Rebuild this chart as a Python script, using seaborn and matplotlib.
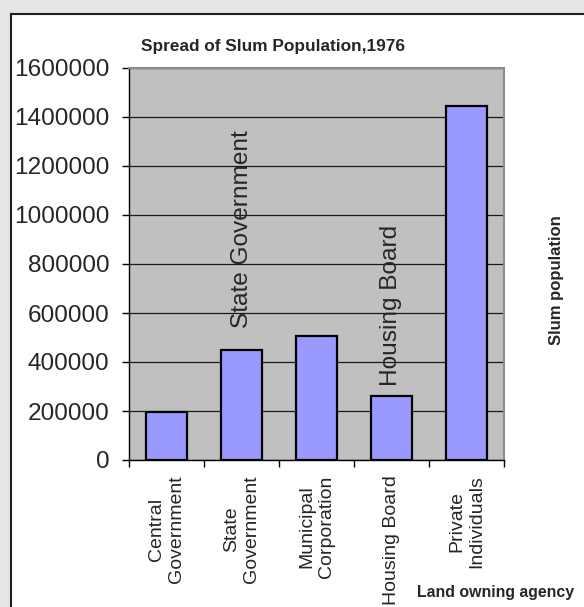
import matplotlib
matplotlib.use("Agg")
import matplotlib.pyplot as plt
import matplotlib.patches as mpatches
from matplotlib.ticker import FixedLocator
import seaborn as sns
import pandas as pd

agencies = ["Central\nGovernment", "State\nGovernment", "Municipal\nCorporation",
            "Housing Board", "Private\nIndividuals"]
slum_population = [197000, 450000, 506000, 262000, 1446000]
y_ticks = [0, 200000, 400000, 600000, 800000, 1000000, 1200000, 1400000, 1600000]

df = pd.DataFrame({"agency": agencies, "population": slum_population})

sns.set_style("white")
plt.rcParams['font.family'] = ['Liberation Sans', 'DejaVu Sans']

W, H = 584, 607
fig = plt.figure(figsize=(W / 100, H / 100), dpi=100, facecolor="#e6e6e6")

# white chart area with dark border
chart_bg = mpatches.Rectangle((11 / W, -0.01), 1.0, 1 - 14 / H + 0.01,
                              transform=fig.transFigure, facecolor="white",
                              edgecolor="#202020", linewidth=1.5, zorder=-10)
fig.patches.append(chart_bg)

ax = fig.add_axes([129 / W, (H - 460) / H, (504 - 129) / W, (460 - 68) / H])
ax.set_facecolor("#c0c0c0")

sns.barplot(data=df, x="agency", y="population", order=agencies,
            color="#9999ff", edgecolor="black", linewidth=1.6, width=0.55,
            saturation=1, ax=ax, zorder=3)

ax.set_xlim(-0.5, len(agencies) - 0.5)
ax.set_ylim(0, 1600000)
ax.set_yticks(y_ticks)
ax.set_yticklabels([str(v) for v in y_ticks], fontsize=17.6)
ax.yaxis.grid(True, color="#1a1a1a", linewidth=0.9, zorder=1)
ax.set_axisbelow(True)

ax.set_xticks(range(len(agencies)))
ax.set_xticklabels(agencies, rotation=90, fontsize=14, ha="center", va="top",
                   multialignment="center")
ax.tick_params(axis="x", which="major", length=0, pad=11)
ax.xaxis.set_minor_locator(FixedLocator([i - 0.5 for i in range(len(agencies) + 1)]))
ax.tick_params(axis="x", which="minor", bottom=True, length=5, width=1, color="black",
               direction="out")
ax.tick_params(axis="y", left=True, length=5, width=1, color="black", direction="out", pad=9)

for side in ["left", "bottom"]:
    ax.spines[side].set_color("black")
    ax.spines[side].set_linewidth(1.0)
for side in ["top", "right"]:
    ax.spines[side].set_color("#8c8c8c")
    ax.spines[side].set_linewidth(1.5)

ax.set_xlabel("")
ax.set_ylabel("")

# labels written inside the plot area
ax.text(1, 540000, "State Government", rotation=90, ha="center", va="bottom",
        fontsize=17.6, zorder=5)
ax.text(3, 300000, "Housing Board", rotation=90, ha="center", va="bottom",
        fontsize=17.6, zorder=5)

fig.text(273 / W, 1 - 47 / H, "Spread of Slum Population,1976", ha="center",
         va="center", fontsize=12.4, fontweight="bold")
fig.text(556 / W, 1 - 280 / H, "Slum population", rotation=90, ha="center",
         va="center", fontsize=12, fontweight="bold")
fig.text(496 / W, 1 - 593 / H, "Land owning agency", ha="center", va="center",
         fontsize=11.4, fontweight="bold")

fig.savefig("out.png", dpi=100, facecolor=fig.get_facecolor())
